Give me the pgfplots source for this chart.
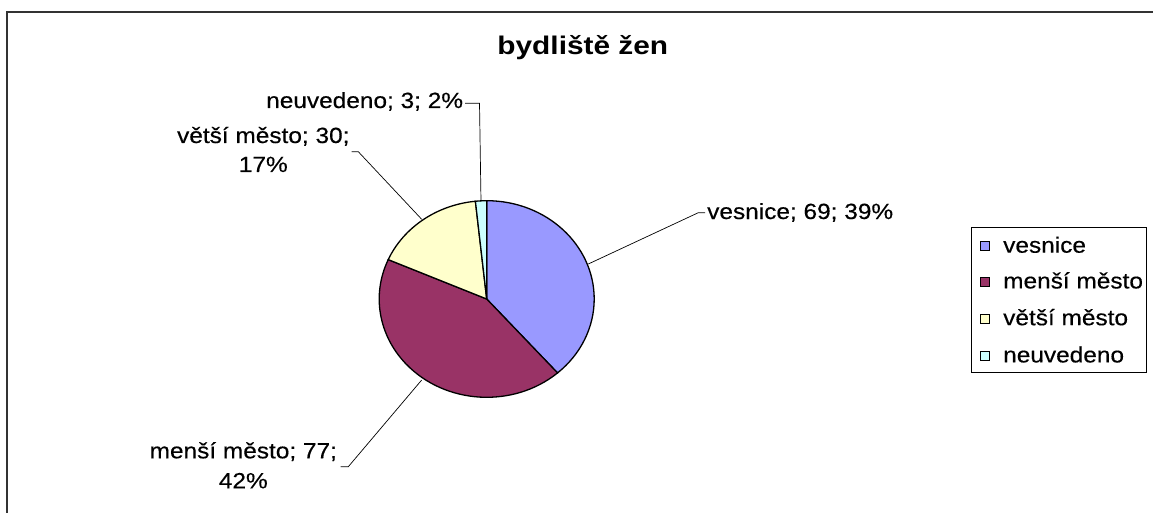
\documentclass[border=0pt]{standalone}
\usepackage{pgfplots}
\pgfplotsset{compat=1.18}
\usepackage{fontspec}
\setmainfont{Liberation Sans}
\newfontfamily\labfont[FakeStretch=1.11,FakeBold=0.4]{Liberation Sans}
\newfontfamily\titfont[FakeStretch=1.17]{Liberation Sans}
\definecolor{cVes}{HTML}{9999FF}
\definecolor{cMen}{HTML}{993366}
\definecolor{cVet}{HTML}{FFFFCC}
\definecolor{cNeu}{HTML}{CCFFFF}
\definecolor{frame}{HTML}{333333}
% data: vesnice, mensi mesto, vetsi mesto, neuvedeno
\def\vA{69}\def\vB{77}\def\vC{30}\def\vD{3}
\pgfmathsetmacro\tot{\vA+\vB+\vC+\vD}
\pgfmathsetmacro\aA{90}
\pgfmathsetmacro\aB{90-360*(\vA/\tot)}
\pgfmathsetmacro\aC{90-360*((\vA+\vB)/\tot)}
\pgfmathsetmacro\aD{90-360*((\vA+\vB+\vC)/\tot)}
\pgfmathsetmacro\aE{90-360}
\begin{document}
\begin{tikzpicture}
\useasboundingbox (0,0) rectangle (1153pt,512pt);
\begin{axis}[at={(0pt,0pt)}, anchor=south west, scale only axis,
  width=1153pt, height=512pt, xmin=0, xmax=1153, ymin=0, ymax=512,
  hide axis, clip=false, disabledatascaling]
% frame
\draw[frame, line width=1.5pt] (axis cs:7,-5) -- (axis cs:7,500) -- (axis cs:1160,500);
% pie
\filldraw[fill=cVes, draw=black, line width=1.3pt] (axis cs:486.7,213) -- ++(\aA:107.5pt and 98.3pt) arc[start angle=\aA, end angle=\aB, x radius=107.5pt, y radius=98.3pt] -- cycle;
\filldraw[fill=cMen, draw=black, line width=1.3pt] (axis cs:486.7,213) -- ++(\aB:107.5pt and 98.3pt) arc[start angle=\aB, end angle=\aC, x radius=107.5pt, y radius=98.3pt] -- cycle;
\filldraw[fill=cVet, draw=black, line width=1.3pt] (axis cs:486.7,213) -- ++(\aC:107.5pt and 98.3pt) arc[start angle=\aC, end angle=\aD, x radius=107.5pt, y radius=98.3pt] -- cycle;
\filldraw[fill=cNeu, draw=black, line width=1.3pt] (axis cs:486.7,213) -- ++(\aD:107.5pt and 98.3pt) arc[start angle=\aD, end angle=\aE, x radius=107.5pt, y radius=98.3pt] -- cycle;
% leader lines
\draw[black, line width=0.7pt] (axis cs:588.3,248) -- (axis cs:698.3,299.3) -- (axis cs:705,299.3);
\draw[black, line width=0.7pt] (axis cs:465,408.7) -- (axis cs:479.5,408.7) -- (axis cs:481,310.3);
\draw[black, line width=0.7pt] (axis cs:351.7,360.3) -- (axis cs:358.3,360.3) -- (axis cs:421.7,292.7);
\draw[black, line width=0.7pt] (axis cs:340.7,45.3) -- (axis cs:348.3,45.3) -- (axis cs:421.7,132);
% title
\node[anchor=base, inner sep=0pt, font=\titfont\bfseries\fontsize{25.5}{30}\selectfont] at (axis cs:582.8,457) {bydliště žen};
% data labels
\begin{scope}[every node/.style={inner sep=0pt, font=\labfont\fontsize{22}{26}\selectfont}]
\node[anchor=base west] at (axis cs:707,293) {vesnice; 69; 39\%};
\node[anchor=base east] at (axis cs:463.3,404) {neuvedeno; 3; 2\%};
\node[anchor=base] at (axis cs:263.3,369) {větší město; 30;};
\node[anchor=base] at (axis cs:263.3,340) {17\%};
\node[anchor=base] at (axis cs:243.3,53.7) {menší město; 77;};
\node[anchor=base] at (axis cs:243.3,23.7) {42\%};
% legend
\draw[black, line width=0.8pt] (axis cs:971.7,284.7) rectangle (axis cs:1146.7,139.7);
\filldraw[fill=cVes, draw=black, line width=0.8pt] (axis cs:980.5,261.2) rectangle (axis cs:989.5,270.2);
\filldraw[fill=cMen, draw=black, line width=0.8pt] (axis cs:980.5,225.5) rectangle (axis cs:989.5,234.5);
\filldraw[fill=cVet, draw=black, line width=0.8pt] (axis cs:980.5,188.7) rectangle (axis cs:989.5,197.7);
\filldraw[fill=cNeu, draw=black, line width=0.8pt] (axis cs:980.5,151.5) rectangle (axis cs:989.5,160.5);
\node[anchor=base west] at (axis cs:1003,259.3) {vesnice};
\node[anchor=base west] at (axis cs:1003,223.6) {menší město};
\node[anchor=base west] at (axis cs:1003,186.8) {větší město};
\node[anchor=base west] at (axis cs:1003,149.6) {neuvedeno};
\end{scope}
\end{axis}
\end{tikzpicture}
\end{document}
